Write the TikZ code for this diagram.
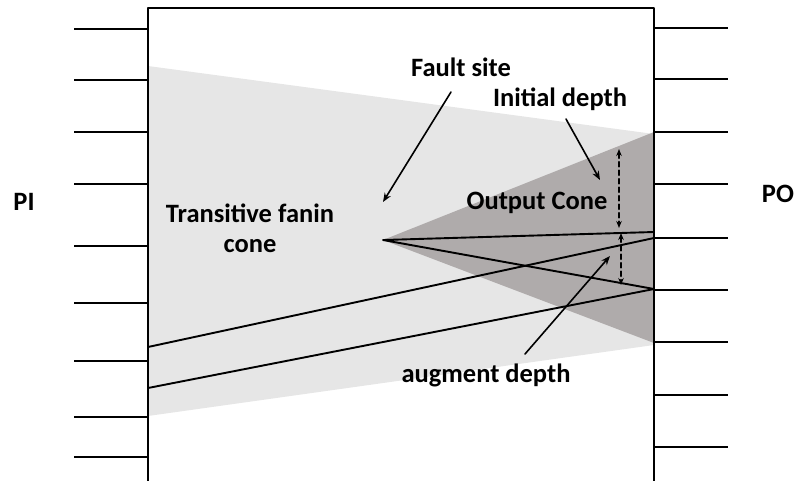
\documentclass[tikz,border=0pt]{standalone}
\usepackage{fontspec}
\setmainfont{Carlito}
\usetikzlibrary{arrows.meta}
\definecolor{fanin}{RGB}{230,230,230}
\definecolor{outcone}{RGB}{175,171,171}

\begin{document}
\begin{tikzpicture}[x=1pt,y=-1pt,line cap=round,line join=round,
    lbl/.style={font=\bfseries\fontsize{26.5}{30}\selectfont,inner sep=0pt},
    pin/.style={line width=2.6pt,line cap=butt},
    wire/.style={line width=1.9pt},
    ptr/.style={line width=1.6pt,-{Stealth[length=9pt,width=7pt]}},
    depth/.style={line width=1.6pt,dash pattern=on 5pt off 3.5pt,
      {Stealth[length=7pt,width=5.5pt]}-{Stealth[length=7pt,width=5.5pt]}}]
  \useasboundingbox (0,0) rectangle (796,480);

  % cones
  \fill[fanin] (148,66) -- (654,134) -- (654,345) -- (148,416) -- cycle;
  \fill[outcone] (383,240) coordinate (S)
    -- (654,132) coordinate (T) -- (654,343) coordinate (B) -- cycle;

  % circuit block and its pins
  \draw[line width=2.6pt] (148,482) -- (148,8) -- (654,8) -- (654,482);
  \foreach \y [count=\i] in {29,80,132,184,246,303,361,417,457}
    \draw[pin] (74,\y) coordinate (pi\i) -- (148,\y);
  \foreach \y [count=\i] in {28,79,132,184,238,290,342,395,447}
    \draw[pin] (654,\y) coordinate (po\i) -- (728,\y);

  % paths through the fault site
  \coordinate (L1) at (148,347);
  \coordinate (L2) at (148,388);
  \coordinate (R1) at (654,232);
  \coordinate (R2) at (654,238);
  \coordinate (R3) at (654,289);
  \draw[wire] (S) -- (R1) (S) -- (R3);
  \draw[wire] (L1) -- (R2) (L2) -- (R3);

  % depths
  \coordinate (d1) at (619,149);
  \coordinate (d2) at (619,228);
  \coordinate (d3) at (621,233);
  \coordinate (d4) at (621,285);
  \draw[depth] (d1) -- (d2);
  \draw[depth] (d3) -- (d4);

  % labels
  \node[lbl] (PI) at (24,202) {PI};
  \node[lbl] (PO) at (778,194) {PO};
  \node[lbl,align=center] (tfc) at (250,228) {Transitive fanin\\cone};
  \node[lbl] (oc) at (537,203) {Output Cone};
  \node[lbl] (fs) at (461,67) {Fault site};
  \node[lbl] (id) at (560,99) {Initial depth};
  \node[lbl] (ad) at (486,375) {augment depth};
  \draw[ptr] (451,92) -- (383,202);
  \draw[ptr] (566,119) -- (600,180);
  \draw[ptr] (525,354) -- (610,256);
\end{tikzpicture}
\end{document}
